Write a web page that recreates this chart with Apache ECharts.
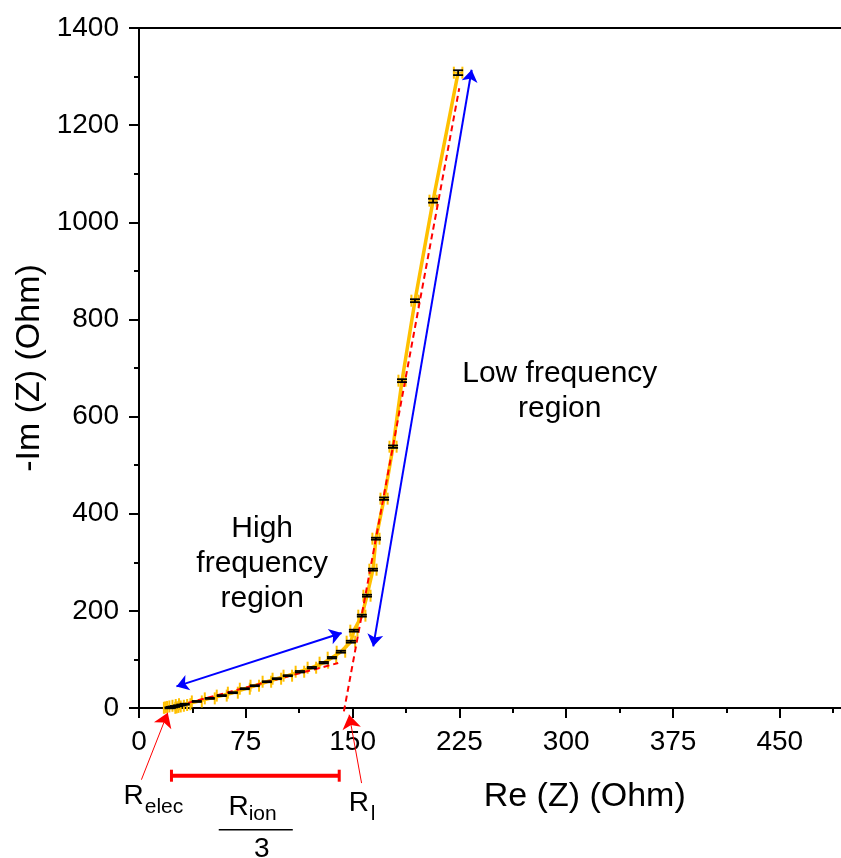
<!DOCTYPE html>
<html><head><meta charset="utf-8">
<script src="https://cdn.jsdelivr.net/npm/echarts@6/dist/echarts.min.js"></script>
<style>html,body{margin:0;padding:0;background:#fff}#c{width:841px;height:858px}</style>
</head><body><div id="c"></div>
<script>
// ---- data ----
const re = [21.5, 22.5, 23.7, 25.3, 27.5, 29.8, 32.1, 40.6, 49.7, 58.1, 65.9, 74.3, 81.3, 89.8, 96.8, 104.5, 113.0, 121.4, 129.8, 135.5, 141.8, 148.8, 150.9, 156.5, 160.1, 164.3, 166.4, 172.1, 178.4, 184.7, 193.8, 206.5, 224.1];
const im = [0.4, 1.3, 2.2, 3.2, 4.6, 6.2, 7.8, 13.5, 19.8, 25.5, 31.5, 39.7, 45.9, 54.1, 60.3, 66.5, 74.7, 83.0, 93.3, 103.6, 115.9, 136.5, 159.2, 190.1, 231.2, 284.8, 348.6, 431.0, 538.0, 673.9, 838.6, 1044.5, 1308];
const reErr = [4,4,4,4,4,4,4,3.5,3.5,3.5,3.5,3.5,3,3,3,3,3,3,3,3,3,3,2.5,2.5,2.5,2.5,2.5,2.5,2.5,2.5,2.5,2.5,3];
const imErr = [1,1,1,1,1,1,1,1,1,1,1,1,1,1,1,1,1.5,1.5,1.5,1.5,2,2,2,2,2,2,2,2.5,2.5,3,3,4,5];
const fitHigh = [[21, 0], [139.9, 92.6]];
const fitLow = [[143.9, -7], [224.9, 1276]];
const blueArrows = [[[26.3, 44.5], [142.3, 154.4]], [[164.5, 126.8], [233.6, 1314]]];
const redArrows = [[[1.7, -147.6], [20.2, -9.7]], [[156.3, -154.6], [147.6, -13.8]]];
const rionBar = [22.8, 140.6, -139.4];
const xTicks = {min: 0, max: 500, interval: 75};
const yTicks = {min: 0, max: 1400, interval: 200};

const FONT = 'Liberation Sans, Arial, sans-serif';
const chart = echarts.init(document.getElementById('c'), null, {renderer: 'canvas'});
const pts = re.map((r, i) => [r, im[i], reErr[i], imErr[i]]);

function axisCommon() {
  return {
    axisLine: {show: true, onZero: false, lineStyle: {color: '#000', width: 2}},
    axisTick: {show: true, inside: false, length: 10, lineStyle: {color: '#000', width: 2}},
    minorTick: {show: true, splitNumber: 2, length: 5, lineStyle: {color: '#000', width: 2}},
    splitLine: {show: false},
    minorSplitLine: {show: false}
  };
}

const option = {
  animation: false,
  backgroundColor: '#fff',
  grid: {left: 139, top: 28, right: -10, bottom: 150, show: true, borderColor: '#000', borderWidth: 2,
         backgroundColor: 'transparent', containLabel: false, outerBoundsMode: 'none'},
  xAxis: Object.assign(axisCommon(), {
    type: 'value', min: xTicks.min, max: xTicks.max, interval: xTicks.interval,
    axisLabel: {fontSize: 28, color: '#000', fontFamily: FONT, margin: 20, showMaxLabel: false,
                formatter: v => String(v)}
  }),
  yAxis: Object.assign(axisCommon(), {
    type: 'value', min: yTicks.min, max: yTicks.max, interval: yTicks.interval,
    axisLabel: {fontSize: 28, color: '#000', fontFamily: FONT, margin: 20, formatter: v => String(v)}
  }),
  series: [
    {type: 'line', data: re.map((r, i) => [r, im[i]]), showSymbol: false, symbol: 'none',
     lineStyle: {color: '#FFC000', width: 3.5}, z: 2},
    {type: 'custom', data: pts, z: 3, clip: false,
     renderItem: function (params, api) {
       const x = api.value(0), y = api.value(1), e = api.value(2);
       const p1 = api.coord([x - e, y]), p2 = api.coord([x + e, y]);
       const h = 6, st = {stroke: '#FFC000', lineWidth: 2};
       return {type: 'group', children: [
         {type: 'line', shape: {x1: p1[0], y1: p1[1], x2: p2[0], y2: p2[1]}, style: st},
         {type: 'line', shape: {x1: p1[0], y1: p1[1] - h, x2: p1[0], y2: p1[1] + h}, style: st},
         {type: 'line', shape: {x1: p2[0], y1: p2[1] - h, x2: p2[0], y2: p2[1] + h}, style: st}
       ]};
     }},
    {type: 'line', data: fitHigh, showSymbol: false, symbol: 'none', clip: false, z: 4,
     lineStyle: {color: '#FF0000', width: 2, type: [6, 4]}},
    {type: 'line', data: fitLow, showSymbol: false, symbol: 'none', clip: false, z: 4,
     lineStyle: {color: '#FF0000', width: 2, type: [6, 4]}},
    {type: 'custom', data: pts, z: 5, clip: false,
     renderItem: function (params, api) {
       const x = api.value(0), y = api.value(1), e = api.value(3);
       const p1 = api.coord([x, y - e]), p2 = api.coord([x, y + e]);
       const w = 5, st = {stroke: '#000', lineWidth: 1.8};
       return {type: 'group', children: [
         {type: 'line', shape: {x1: p1[0], y1: p1[1], x2: p2[0], y2: p2[1]}, style: st},
         {type: 'line', shape: {x1: p1[0] - w, y1: p1[1], x2: p1[0] + w, y2: p1[1]}, style: st},
         {type: 'line', shape: {x1: p2[0] - w, y1: p2[1], x2: p2[0] + w, y2: p2[1]}, style: st}
       ]};
     }},
    {type: 'lines', coordinateSystem: 'cartesian2d', clip: false, z: 6,
     data: blueArrows.map(c => ({coords: c})),
     symbol: ['arrow', 'arrow'], symbolSize: 12,
     lineStyle: {color: '#0000FF', width: 2, opacity: 1}},
    {type: 'lines', coordinateSystem: 'cartesian2d', clip: false, z: 6,
     data: redArrows.map(c => ({coords: c})),
     symbol: ['none', 'arrow'], symbolSize: 14,
     lineStyle: {color: '#FF0000', width: 1, opacity: 1}},
    {type: 'custom', data: [rionBar], z: 6, clip: false,
     renderItem: function (params, api) {
       const a = api.coord([api.value(0), api.value(2)]), b = api.coord([api.value(1), api.value(2)]);
       const st = {stroke: '#FF0000', lineWidth: 4};
       const cs = {stroke: '#FF0000', lineWidth: 3};
       return {type: 'group', children: [
         {type: 'line', shape: {x1: a[0], y1: a[1], x2: b[0], y2: b[1]}, style: st},
         {type: 'line', shape: {x1: a[0], y1: a[1] - 6, x2: a[0], y2: a[1] + 6}, style: cs},
         {type: 'line', shape: {x1: b[0], y1: b[1] - 6, x2: b[0], y2: b[1] + 6}, style: cs}
       ]};
     }}
  ]
};
chart.setOption(option);

// ---- text annotations anchored in data space ----
const P = (x, y) => chart.convertToPixel({gridIndex: 0}, [x, y]);
function txt(text, p, size, align, extra) {
  return Object.assign({type: 'text', x: p[0], y: p[1], z: 20, silent: true,
    style: {text: text, fontSize: size, fontFamily: FONT, fill: '#000', align: align || 'center',
            verticalAlign: 'middle', lineHeight: 35}}, extra || {});
}
const g = [];
g.push(txt('Low frequency\nregion', P(295.5, 653), 30));
g.push(txt('High\nfrequency\nregion', P(86.5, 297), 30, 'center'));
// R_elec
g.push(txt('R', P(-3.7, -182.5), 28));
g.push(txt('elec', P(4.0, -204.3), 21, 'left'));
// R_ion / 3
g.push(txt('R', P(70.0, -204.4), 28));
g.push(txt('ion', P(77.0, -219.3), 21, 'left'));
const f1 = P(56, -250.8), f2 = P(108, -250.8);
g.push({type: 'line', z: 20, shape: {x1: f1[0], y1: f1[1], x2: f2[0], y2: f2[1]}, style: {stroke: '#000', lineWidth: 1.5}});
g.push(txt('3', P(86.2, -291), 28));
// R_l
g.push(txt('R', P(154.4, -195.5), 28));
g.push(txt('l', P(162.8, -219.3), 21, 'left'));
// axis titles
g.push(txt('Re (Z) (Ohm)', P(313, -182), 34));
const yt = P(-76, 700);
g.push(Object.assign(txt('-Im (Z) (Ohm)', [0, 0], 34), {x: 30, y: yt[1], rotation: Math.PI / 2}));
chart.setOption({graphic: g});
</script>
</body></html>
